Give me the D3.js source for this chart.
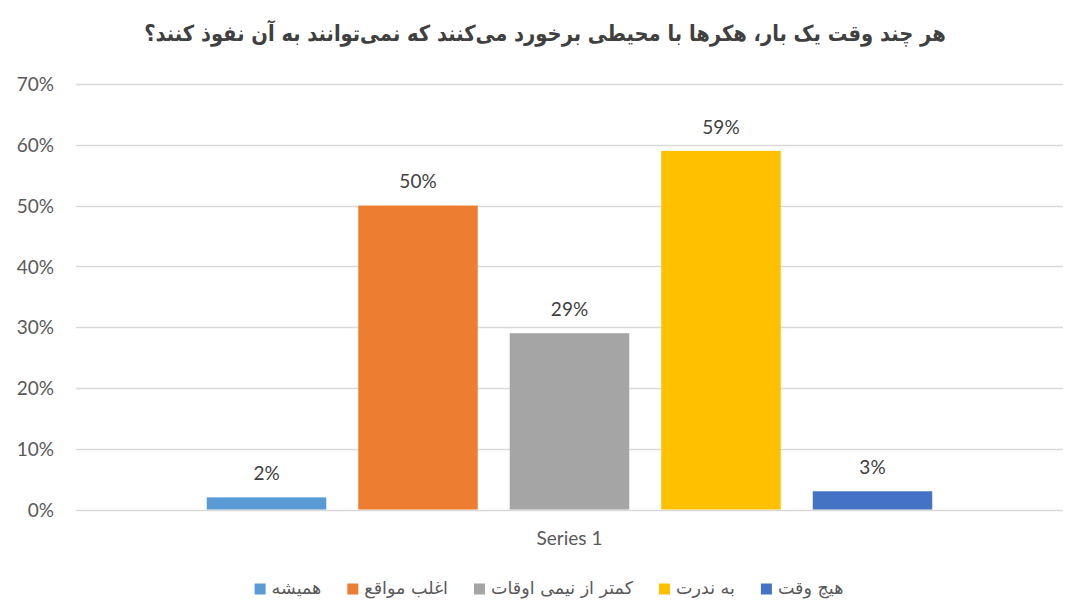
<!DOCTYPE html>
<html>
<head>
<meta charset="utf-8">
<script src="https://cdn.jsdelivr.net/npm/d3@7"></script>
<style>
  html, body { margin: 0; padding: 0; background: #fff; }
  svg { display: block; }
</style>
</head>
<body>
<svg id="chart" width="1078" height="609"></svg>
<script>
const titleText = "هر چند وقت یک بار، هکرها با محیطی برخورد می‌کنند که نمی‌توانند به آن نفوذ کنند؟";
const categories = ["Series 1"];
const seriesNames = ["همیشه", "اغلب مواقع", "کمتر از نیمی اوقات", "به ندرت", "هیچ وقت"];
const seriesValues = [0.02, 0.50, 0.29, 0.59, 0.03];
const seriesColors = ["#5B9BD5", "#ED7D31", "#A5A5A5", "#FFC000", "#4472C4"];
const yTicks = [0, 0.1, 0.2, 0.3, 0.4, 0.5, 0.6, 0.7];

const svg = d3.select("#chart");
const plot = { left: 76, right: 1063, top: 84, bottom: 509.5 };
const latin = "Lato, 'Open Sans', 'Liberation Sans', sans-serif";
const persian = "'DejaVu Sans', 'Noto Sans', sans-serif";
const latinSize = 19;

// Title: larger glyphs, compressed horizontally to the reference width
const titleG = svg.append("g");
const title = titleG.append("text")
  .attr("x", 0).attr("y", 0)
  .attr("text-anchor", "middle")
  .attr("dominant-baseline", "middle")
  .attr("direction", "rtl")
  .attr("font-family", persian)
  .attr("font-weight", "bold")
  .attr("font-size", 22)
  .attr("fill", "#404040")
  .text(titleText);
const tw = title.node().getComputedTextLength();
titleG.attr("transform", `translate(545,35) scale(${802 / tw},1)`);

// Scales
const y = d3.scaleLinear().domain([0, 0.7]).range([plot.bottom, plot.top]);
const x0 = d3.scaleBand().domain(categories).range([plot.left, plot.right]).paddingInner(0.1527).paddingOuter(0.1527);
const x1 = d3.scaleBand().domain(seriesNames).range([0, x0.bandwidth()]).paddingInner(0.2112).paddingOuter(0);

// Gridlines
svg.append("g").selectAll("line").data(yTicks).join("line")
  .attr("x1", plot.left).attr("x2", plot.right)
  .attr("y1", d => Math.round(y(d)) + 0.5).attr("y2", d => Math.round(y(d)) + 0.5)
  .attr("stroke", "#D9D9D9").attr("stroke-width", 1.3);

// Y axis labels
const yAxis = d3.axisLeft(y).tickValues(yTicks).tickFormat(d3.format(".0%")).tickSize(0).tickPadding(0);
const yg = svg.append("g").attr("transform", `translate(54,0)`).call(yAxis);
yg.select(".domain").remove();
yg.selectAll("text")
  .attr("font-family", latin).attr("font-size", latinSize).attr("fill", "#595959")
  .attr("dy", "0.35em");

// Bars
const g = svg.append("g");
categories.forEach(cat => {
  const gx = x0(cat);
  g.selectAll("rect.bar").data(seriesNames).join("rect")
    .attr("class", "bar")
    .attr("x", d => gx + x1(d))
    .attr("width", x1.bandwidth())
    .attr("y", (d, i) => y(seriesValues[i]))
    .attr("height", (d, i) => y(0) - y(seriesValues[i]))
    .attr("fill", (d, i) => seriesColors[i]);
  g.selectAll("text.lbl").data(seriesNames).join("text")
    .attr("class", "lbl")
    .attr("x", d => gx + x1(d) + x1.bandwidth() / 2)
    .attr("y", (d, i) => y(seriesValues[i]) - 24)
    .attr("dy", "0.35em")
    .attr("text-anchor", "middle")
    .attr("font-family", latin).attr("font-size", latinSize).attr("fill", "#404040")
    .text((d, i) => d3.format(".0%")(seriesValues[i]));
});

// X axis category label
const xAxis = d3.axisBottom(x0).tickSize(0).tickPadding(0);
const xg = svg.append("g").attr("transform", `translate(0,538)`).call(xAxis);
xg.select(".domain").remove();
xg.selectAll("text")
  .attr("font-family", latin).attr("font-size", latinSize).attr("fill", "#595959")
  .attr("dy", "0.35em").attr("y", 0);

// Legend
const legend = svg.append("g");
const items = legend.selectAll("g").data(seriesNames).join("g");
const texts = items.append("text")
  .attr("font-family", persian).attr("font-size", 15).attr("fill", "#595959")
  .attr("direction", "rtl")
  .attr("dominant-baseline", "middle")
  .text(d => d);
let total = 0;
texts.each(function () { total += this.getComputedTextLength(); });
texts.attr("font-size", 15 * 400 / total);
const widths = [];
texts.each(function () { widths.push(this.getComputedTextLength()); });
const sq = 11, gapT = 6, gapI = 26;
const legendW = d3.sum(widths) + seriesNames.length * (sq + gapT) + (seriesNames.length - 1) * gapI;
let cx = 549 - legendW / 2;
const ly = 589;
items.each(function (d, i) {
  const it = d3.select(this);
  it.append("rect").attr("x", cx).attr("y", ly - sq / 2).attr("width", sq).attr("height", sq)
    .attr("fill", seriesColors[i]);
  it.select("text").attr("x", cx + sq + gapT + widths[i]).attr("y", ly).attr("text-anchor", "start");
  cx += sq + gapT + widths[i] + gapI;
});
</script>
</body>
</html>
